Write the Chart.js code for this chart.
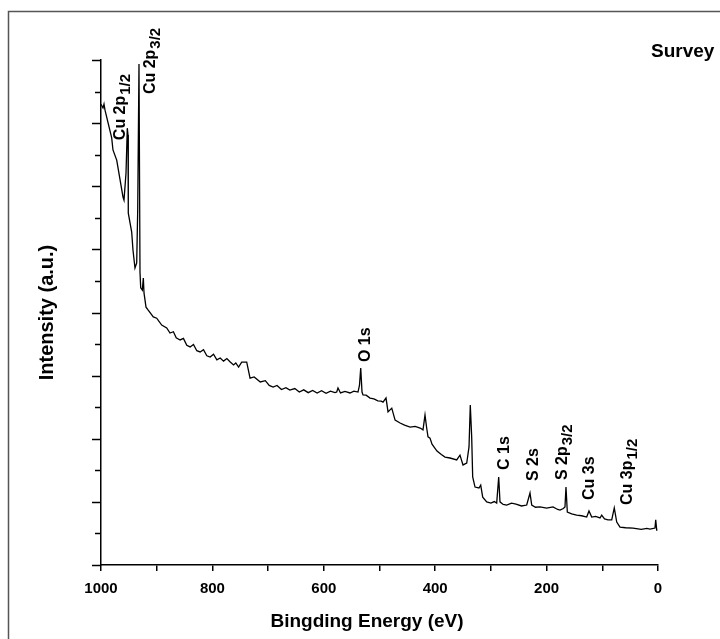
<!DOCTYPE html>
<html>
<head>
<meta charset="utf-8">
<title>XPS survey</title>
<script src="https://cdn.jsdelivr.net/npm/chart.js@4.4.1/dist/chart.umd.min.js"></script>
<style>
    html, body { margin: 0; padding: 0; background: #fff; }
    canvas { display: block; }
</style>
</head>
<body>
<canvas id="chart" width="720" height="639"></canvas>
<script>
// binding energy (eV) and intensity (a.u., scale 0..160)
const bindingEnergy = [
    1000, 996.4, 994.6, 992.8, 980.8, 978.5, 971.8, 960.5, 958.7, 955.1,
    952.8, 951.5, 951.0, 944.9, 942.6, 939.0, 935.9, 934.1, 931.8, 930.0,
    928.7, 925.8, 924.0, 922.8, 919.2, 915.6, 906.1, 900.0, 891.0, 882.0,
    876.1, 870, 865, 858, 852, 846, 840, 834, 828, 822,
    816, 810, 804, 798, 792, 786, 780, 774, 768, 762,
    758, 753, 747.4, 738.4, 732.4, 725, 714, 705, 698, 691,
    684, 676, 668, 661, 652, 644, 636, 628, 620, 612,
    604, 596, 588, 580, 576.8, 574.5, 570, 562, 553, 546,
    538.6, 535.9, 533.7, 531.4, 529.6, 524, 517, 510, 503, 497,
    493.7, 488.3, 484.7, 478, 472, 463, 455, 445, 436, 427,
    421.9, 418.3, 415.3, 412.9, 409.3, 405.7, 396.8, 389, 382.4, 373.4,
    361.4, 355.5, 350.1, 343.4, 339.3, 337, 334.5, 332.7, 328.5, 321.4,
    318.3, 314.7, 307.5, 300, 294, 289.6, 286, 283.7, 278, 271.6,
    263, 254.9, 245, 235.7, 229.8, 226.7, 220, 211.8, 200, 188.5,
    180, 175.9, 170, 167, 165.2, 162.8, 155, 146, 137, 128,
    123.9, 119, 112, 104.1, 101.1, 96, 89.8, 83.1, 78.5, 74.1,
    68.2, 58, 44.9, 30, 20, 14.4, 5.4, 4.1, 2.3, 1
];
const intensity = [
    146.0, 144.8, 146.0, 144.1, 135.3, 131.5, 128.3, 116.6, 115.6, 124.2,
    138.4, 136.2, 111.5, 105.5, 99.8, 94.1, 95.7, 112.5, 158.7, 92.8,
    87.8, 87.1, 90.9, 86.2, 81.7, 80.8, 78.6, 78.2, 76.0, 75.1,
    73.5, 73.9, 72.0, 71.3, 71.8, 69.6, 69.1, 69.9, 67.9, 67.5,
    68.2, 66.3, 65.9, 66.8, 65.0, 65.6, 64.6, 65.4, 64.3, 63.4,
    64.0, 62.7, 64.3, 64.3, 59.2, 59.6, 58.0, 58.4, 56.9, 56.4,
    56.9, 55.6, 56.2, 55.4, 55.9, 54.8, 55.5, 54.6, 55.3, 54.5,
    55.2, 54.4, 55.1, 54.6, 54.8, 56.1, 54.5, 55.0, 54.5, 55.1,
    54.8, 57.0, 62.4, 54.8, 53.9, 53.8, 52.9, 52.6, 52.0, 51.9,
    51.6, 52.9, 48.5, 49.7, 45.9, 45.0, 44.3, 43.7, 43.9, 43.4,
    42.8, 47.5, 43.4, 40.6, 40.2, 38.3, 36.1, 35.0, 34.2, 33.9,
    33.3, 34.8, 31.7, 32.3, 37.4, 50.7, 40.6, 27.9, 24.7, 24.4,
    25.3, 21.5, 20.0, 19.6, 20.1, 19.6, 27.9, 20.0, 19.2, 19.0,
    19.6, 19.3, 18.7, 19.0, 22.8, 19.0, 18.3, 18.4, 18.0, 18.4,
    17.6, 17.4, 17.9, 18.4, 24.7, 16.8, 16.2, 15.8, 15.6, 15.2,
    17.1, 15.2, 15.4, 14.9, 15.8, 14.6, 14.3, 14.3, 18.1, 13.6,
    12.0, 11.8, 11.7, 11.3, 11.6, 11.4, 11.7, 14.3, 11.1, 11.2
];

const xLabelTicks = [1000, 800, 600, 400, 200, 0];

// peak annotations: name, subscript, where the rotated text starts
const peakNames = ['Cu 2p', 'Cu 2p', 'O 1s', 'C 1s', 'S 2s', 'S 2p', 'Cu 3s', 'Cu 3p'];
const peakSubs = ['1/2', '3/2', '', '', '', '3/2', '', '1/2'];
const peakEnergy = [957, 903, 517, 267.5, 215.4, 163.4, 114.9, 46.7];
const peakLevel = [134.6, 149.2, 64.3, 30.1, 26.6, 26.9, 20.6, 19.0];

const FONT = "'Liberation Sans', Arial, sans-serif";

const points = bindingEnergy.map((e, i) => ({ x: e, y: intensity[i] }));

const decorations = {
    id: 'decorations',
    afterDraw(chart) {
        const ctx = chart.ctx;
        const xs = chart.scales.x;
        const ys = chart.scales.y;
        const area = chart.chartArea;
        ctx.save();

        // outer frame
        ctx.strokeStyle = '#555';
        ctx.lineWidth = 1.5;
        ctx.beginPath();
        ctx.moveTo(8.5, 639);
        ctx.lineTo(8.5, 11.5);
        ctx.lineTo(720, 11.5);
        ctx.stroke();

        // y tick marks, long every other one
        ctx.strokeStyle = '#000';
        ctx.lineWidth = 1.5;
        ys.ticks.forEach((t, i) => {
            const py = Math.round(ys.getPixelForValue(t.value)) + 0.5;
            const len = i % 2 === 0 ? 9 : 6;
            ctx.beginPath();
            ctx.moveTo(area.left - len, py);
            ctx.lineTo(area.left, py);
            ctx.stroke();
        });

        ctx.fillStyle = '#000';

        // axis titles
        ctx.font = 'bold 19px ' + FONT;
        ctx.textAlign = 'center';
        ctx.textBaseline = 'middle';
        ctx.fillText('Bingding Energy (eV)', 367, 622);
        ctx.save();
        ctx.translate(47, (area.top + area.bottom) / 2);
        ctx.rotate(-Math.PI / 2);
        ctx.font = 'bold 20px ' + FONT;
        ctx.fillText('Intensity (a.u.)', 0, 0);
        ctx.restore();

        ctx.font = 'bold 19px ' + FONT;
        ctx.textAlign = 'left';
        ctx.textBaseline = 'alphabetic';
        ctx.fillText('Survey', 651, 57);

        // peak labels, rotated
        peakNames.forEach((name, i) => {
            const px = xs.getPixelForValue(peakEnergy[i]);
            const py = ys.getPixelForValue(peakLevel[i]);
            ctx.save();
            ctx.translate(px, py);
            ctx.rotate(-Math.PI / 2);
            ctx.font = 'bold 16px ' + FONT;
            ctx.fillText(name, 0, 0);
            if (peakSubs[i]) {
                const w = ctx.measureText(name).width;
                ctx.font = 'bold 15px ' + FONT;
                ctx.fillText(peakSubs[i], w + 1, 5);
            }
            ctx.restore();
        });

        ctx.restore();
    }
};

new Chart(document.getElementById('chart'), {
    type: 'line',
    data: {
        datasets: [{
            data: points,
            borderColor: '#000',
            borderWidth: 1.3,
            pointRadius: 0,
            tension: 0,
            fill: false
        }]
    },
    options: {
        responsive: false,
        animation: false,
        devicePixelRatio: 1,
        layout: { padding: { top: 60, right: 62, left: 0, bottom: 0 } },
        plugins: {
            legend: { display: false },
            tooltip: { enabled: false }
        },
        scales: {
            x: {
                type: 'linear',
                reverse: true,
                min: 0,
                max: 1000,
                afterFit: (s) => { s.height = 74; },
                border: { display: true, color: '#000', width: 1.5 },
                grid: { display: true, drawOnChartArea: false, drawTicks: true, tickLength: 6, color: '#000', lineWidth: 1.5 },
                ticks: {
                    stepSize: 100,
                    padding: 9,
                    color: '#000',
                    maxRotation: 0,
                    autoSkip: false,
                    font: { family: FONT, size: 15, weight: 'bold' },
                    callback: (v) => xLabelTicks.includes(v) ? String(v) : ''
                }
            },
            y: {
                type: 'linear',
                min: 0,
                max: 160,
                afterFit: (s) => { s.width = 101; },
                border: { display: true, color: '#000', width: 1.5 },
                grid: { display: true, drawOnChartArea: false, drawTicks: false },
                ticks: { stepSize: 10, display: false }
            }
        }
    },
    plugins: [decorations]
});
</script>
</body>
</html>
